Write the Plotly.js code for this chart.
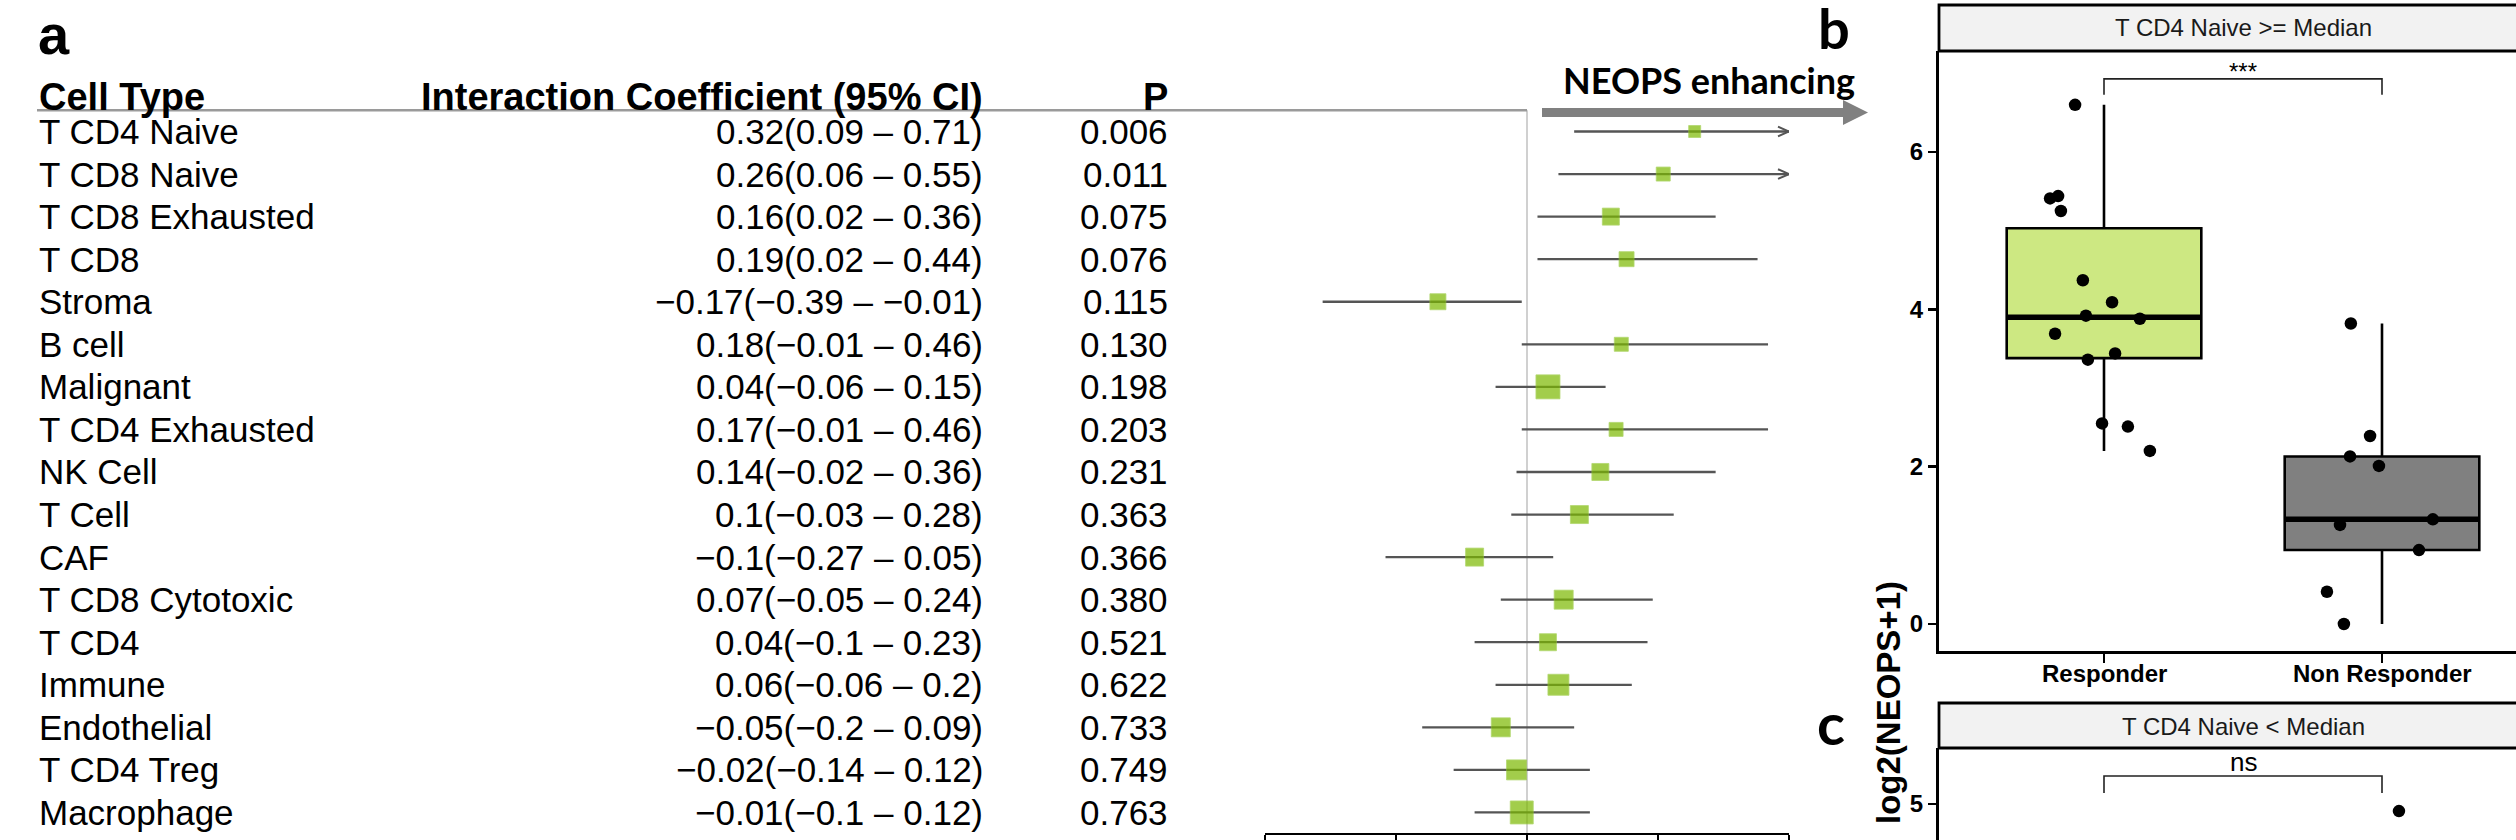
<!DOCTYPE html>
<html><head><meta charset="utf-8">
<script src="https://cdn.plot.ly/plotly-3.0.1.min.js"></script>
<style>html,body{margin:0;padding:0;background:#fff}</style>
</head><body><div id="chart" style="width:2516px;height:840px"></div>
<script>
// ---------- Panel a : forest plot data ----------
const cellTypes = ["T CD4 Naive","T CD8 Naive","T CD8 Exhausted","T CD8","Stroma","B cell","Malignant",
  "T CD4 Exhausted","NK Cell","T Cell","CAF","T CD8 Cytotoxic","T CD4","Immune","Endothelial","T CD4 Treg","Macrophage"];
const estimate = [0.32,0.26,0.16,0.19,-0.17,0.18,0.04,0.17,0.14,0.1,-0.1,0.07,0.04,0.06,-0.05,-0.02,-0.01];
const ciLower  = [0.09,0.06,0.02,0.02,-0.39,-0.01,-0.06,-0.01,-0.02,-0.03,-0.27,-0.05,-0.1,-0.06,-0.2,-0.14,-0.1];
const ciUpper  = [0.71,0.55,0.36,0.44,-0.01,0.46,0.15,0.46,0.36,0.28,0.05,0.24,0.23,0.2,0.09,0.12,0.12];
const pValue   = [0.006,0.011,0.075,0.076,0.115,0.130,0.198,0.203,0.231,0.363,0.366,0.380,0.521,0.622,0.733,0.749,0.763];
const boxWeight = [12,14,17,15,16,14,24,14,17,18,18,19,17,21,19,20,23];
const forestTicks = [-0.5,-0.25,0,0.25,0.5];
const headers = ["Cell Type","Interaction Coefficient (95% CI)","P"];

// ---------- Panel b / c : box plots ----------
const groups = ["Responder","Non Responder"];
const bResponder = [6.6,5.44,5.41,5.25,4.37,4.09,3.92,3.88,3.69,3.44,3.36,2.55,2.51,2.20];
const bResponderJitter = [-0.104,-0.165,-0.194,-0.155,-0.076,0.029,-0.065,0.129,-0.176,0.040,-0.058,-0.007,0.086,0.165];
const bNonResponder = [3.82,2.39,2.13,2.01,1.33,1.26,0.94,0.41,0.00];
const bNonResponderJitter = [-0.112,-0.043,-0.115,-0.011,0.183,-0.151,0.133,-0.198,-0.137];
const bTitle = "T CD4 Naive >= Median";
const bSig = "***";
const cNonResponder = [4.95];
const cNonResponderJitter = [0.061];
const cTitle = "T CD4 Naive < Median";
const cSig = "ns";
const bTicks = [0,2,4,6];
const cTicks = [5];

// ---------- helpers ----------
const W = 2516, H = 840;
const fx = p => p / W;
const fy = p => 1 - p / H;
const FONT = "Liberation Sans, Arial, sans-serif";
const fmt = v => String(v).replace("-", "\u2212");

function q7(arr, p) {
  const s = [...arr].sort((a,b)=>a-b);
  const h = (s.length - 1) * p, lo = Math.floor(h);
  const nx = lo + 1 < s.length ? s[lo+1] : s[lo];
  return s[lo] + (h - lo) * (nx - s[lo]);
}
function boxStats(arr) {
  const q1 = q7(arr,.25), q3 = q7(arr,.75), med = q7(arr,.5), iqr = q3 - q1;
  const inF = arr.filter(v => v >= q1 - 1.5*iqr && v <= q3 + 1.5*iqr);
  return {q1, med, q3, lo: Math.min(...inF), hi: Math.max(...inF)};
}

// forest geometry
const rowPx0 = 131.5, rowStep = 42.56, axisPx = 833;
const fyTop = -rowPx0 / rowStep, fyBot = (axisPx - rowPx0) / rowStep;
const xMin = forestTicks[0], xMax = forestTicks[forestTicks.length-1];
const pxPerX = (1789 - 1265) / (xMax - xMin);

const traces = [];
const rows = cellTypes.map((_, i) => i);

// CI lines
{
  const xs = [], ys = [];
  rows.forEach(i => { xs.push(Math.max(ciLower[i], xMin), Math.min(ciUpper[i], xMax), null); ys.push(i, i, null); });
  traces.push({type:'scatter', mode:'lines', x:xs, y:ys, xaxis:'x', yaxis:'y',
    line:{color:'#555555', width:2.3}, hoverinfo:'skip', showlegend:false});
}
// chevrons for truncated CIs
{
  const xs = [], ys = [], dx = 11 / pxPerX, dy = 4.8 / rowStep;
  rows.filter(i => ciUpper[i] > xMax).forEach(i => {
    xs.push(xMax - dx, xMax, xMax - dx, null); ys.push(i - dy, i, i + dy, null);
  });
  traces.push({type:'scatter', mode:'lines', x:xs, y:ys, xaxis:'x', yaxis:'y',
    line:{color:'#555555', width:2}, hoverinfo:'skip', showlegend:false});
}
// point estimates
traces.push({type:'scatter', mode:'markers', x:estimate, y:rows, xaxis:'x', yaxis:'y',
  marker:{symbol:'square', size:boxWeight, color:'#7cb900', line:{color:'#92c732', width:0.8}},
  hoverinfo:'skip', showlegend:false});

// box plots panel b
const bData = [bResponder, bNonResponder];
const bJit = [bResponderJitter, bNonResponderJitter];
const fills = ['#cde882', '#808080'];
const boxW = 0.70;
bData.forEach((arr, g) => {
  const s = boxStats(arr);
  traces.push({type:'box', x:[g], q1:[s.q1], median:[s.med], q3:[s.q3], lowerfence:[s.lo], upperfence:[s.hi],
    width: boxW, fillcolor: fills[g], line:{color:'#000', width:2.6}, whiskerwidth:0, boxpoints:false,
    xaxis:'x2', yaxis:'y2', hoverinfo:'skip', showlegend:false});
  traces.push({type:'scatter', mode:'lines', x:[g - boxW/2, g + boxW/2], y:[s.med, s.med], xaxis:'x2', yaxis:'y2',
    line:{color:'#000', width:5.5}, hoverinfo:'skip', showlegend:false});
  traces.push({type:'scatter', mode:'markers', x:arr.map((v,k)=> g + bJit[g][k]), y:arr, xaxis:'x2', yaxis:'y2',
    marker:{color:'#000', size:12.5}, hoverinfo:'skip', showlegend:false});
});
// panel c points (only visible part)
traces.push({type:'scatter', mode:'markers', x:cNonResponder.map((v,k)=>1 + cNonResponderJitter[k]), y:cNonResponder,
  xaxis:'x3', yaxis:'y3', marker:{color:'#000', size:12.5}, hoverinfo:'skip', showlegend:false});

// axis ranges for b, c
const catPx = 2382 - 2104, cat0 = 2104;
const xRangeBox = [(1939 - cat0) / catPx, (W - cat0) / catPx];
const bPxPerY = (624 - 152) / 6;
const bRange = [-(651 - 624) / bPxPerY, 6 + (152 - 51) / bPxPerY];
const cPxPerY = 141.4;
const cRange = [5 - (840 - 804) / cPxPerY, 5 + (804 - 748) / cPxPerY];

// significance brackets
const bMax = Math.max(...bResponder, ...bNonResponder);
const bBr = bMax * 1.05, bTip = 16 / bPxPerY;
traces.push({type:'scatter', mode:'lines', x:[0,0,1,1], y:[bBr-bTip,bBr,bBr,bBr-bTip], xaxis:'x2', yaxis:'y2',
  line:{color:'#222', width:1.6}, hoverinfo:'skip', showlegend:false});
const cMax = Math.max(...cNonResponder);
const cBr = cMax * 1.05, cTip = 17 / cPxPerY;
traces.push({type:'scatter', mode:'lines', x:[0,0,1,1], y:[cBr-cTip,cBr,cBr,cBr-cTip], xaxis:'x3', yaxis:'y3',
  line:{color:'#222', width:1.6}, hoverinfo:'skip', showlegend:false});

// ---------- annotations ----------
const ann = [];
const txt = (text, x, y, opts) => Object.assign({text, x, y, xref:'paper', yref:'paper', showarrow:false,
  xanchor:'center', yanchor:'middle', font:{family:FONT, size:35, color:'#000'}}, opts || {});
const hdrY = -0.8;
const hdrFont = {family:FONT, size:38, color:'#000', weight:'bold'};
ann.push(txt(headers[0], fx(37), hdrY, {yref:'y', xanchor:'left', font:hdrFont}));
ann.push(txt(headers[1], fx(985), hdrY, {yref:'y', xanchor:'right', font:hdrFont}));
ann.push(txt(headers[2], fx(1170), hdrY, {yref:'y', xanchor:'right', font:hdrFont}));
rows.forEach(i => {
  ann.push(txt(cellTypes[i], fx(37), i, {yref:'y', xanchor:'left'}));
  ann.push(txt(fmt(estimate[i]) + "(" + fmt(ciLower[i]) + " \u2013 " + fmt(ciUpper[i]) + ")", fx(985), i, {yref:'y', xanchor:'right'}));
  ann.push(txt(pValue[i].toFixed(3), fx(1170), i, {yref:'y', xanchor:'right'}));
});
ann.push(txt("NEOPS enhancing", fx(1709), fy(80), {font:{family:"Lato, sans-serif", size:36, color:'#000', weight:'bold'}}));
ann.push(txt("a", fx(54), fy(35), {font:{family:FONT, size:56, color:'#000', weight:'bold'}}));
ann.push(txt("b", fx(1834), fy(28), {borderpad:0, font:{family:"Lato, sans-serif", size:56, color:'#000', weight:'bold'}}));
ann.push(txt("c", fx(1831), fy(722), {font:{family:"Lato, sans-serif", size:58, color:'#000', weight:'bold'}}));
ann.push(txt(bTitle, fx(2243), fy(28), {font:{family:FONT, size:24, color:'#1a1a1a'}}));
ann.push(txt(cTitle, fx(2243), fy(726), {font:{family:FONT, size:24, color:'#1a1a1a'}}));
ann.push(txt("log2(NEOPS+1)", fx(1888), fy(703), {textangle:-90, font:{family:FONT, size:33, color:'#000', weight:'bold'}}));
groups.forEach((g, k) => {
  ann.push({text:g, x:k, y:fy(673), xref:'x2', yref:'paper', showarrow:false, xanchor:'center', yanchor:'middle',
    font:{family:FONT, size:24, color:'#000', weight:'bold'}});
});
ann.push({text:bSig, x:0.5, y:bBr, xref:'x2', yref:'y2', showarrow:false, xanchor:'center', yanchor:'bottom',
  yshift:-8, font:{family:FONT, size:24, color:'#000'}});
ann.push({text:cSig, x:0.5, y:cBr, xref:'x3', yref:'y3', showarrow:false, xanchor:'center', yanchor:'bottom',
  yshift:-3, font:{family:FONT, size:26, color:'#000'}});

// ---------- shapes ----------
const shapes = [];
shapes.push({type:'line', xref:'x', yref:'y', x0:0, x1:0, y0:-0.5, y1:fyBot, line:{color:'#d0d0d0', width:2}, layer:'below'});
shapes.push({type:'line', xref:'paper', yref:'y', x0:fx(37), x1:fx(1527), y0:-0.5, y1:-0.5, line:{color:'#9a9a9a', width:2.5}});
{
  const P = (x,y) => fx(x).toFixed(5) + ',' + fy(y).toFixed(5);
  const path = 'M' + P(1542,108) + ' L' + P(1843,108) + ' L' + P(1843,100) + ' L' + P(1868,112.5) +
    ' L' + P(1843,125) + ' L' + P(1843,117) + ' L' + P(1542,117) + ' Z';
  shapes.push({type:'path', xref:'paper', yref:'paper', path, fillcolor:'#808080', line:{width:0}});
}
shapes.push({type:'rect', xref:'paper', yref:'paper', x0:fx(1939), x1:1.05, y0:fy(51), y1:fy(5),
  fillcolor:'#f2f2f2', line:{color:'#000', width:2.8}});
shapes.push({type:'rect', xref:'paper', yref:'paper', x0:fx(1939), x1:1.05, y0:fy(748), y1:fy(703),
  fillcolor:'#f2f2f2', line:{color:'#000', width:2.8}});

const tickFont = {family:FONT, size:24, color:'#000', weight:'bold'};
const layout = {
  width:W, height:H, margin:{l:0,r:0,t:0,b:0}, paper_bgcolor:'#fff', plot_bgcolor:'rgba(0,0,0,0)',
  showlegend:false, font:{family:FONT},
  xaxis:{domain:[fx(1265), fx(1789)], range:[xMin, xMax], tickvals:forestTicks, ticks:'outside', ticklen:12,
    tickwidth:2, tickcolor:'#000', showline:true, linewidth:2, linecolor:'#000', showticklabels:false,
    showgrid:false, zeroline:false, anchor:'y', fixedrange:true},
  yaxis:{domain:[fy(axisPx), 1], range:[fyBot, fyTop], visible:false, anchor:'x', fixedrange:true},
  xaxis2:{domain:[fx(1939), 1], range:xRangeBox, tickvals:[0,1], ticks:'outside', ticklen:9,
    tickwidth:2.5, tickcolor:'#000', showline:true, linewidth:3, linecolor:'#000', showticklabels:false,
    showgrid:false, zeroline:false, anchor:'y2'},
  yaxis2:{domain:[fy(651), fy(51)], range:bRange, tickvals:bTicks, ticks:'outside', ticklen:8, tickwidth:2.5,
    tickcolor:'#000', showline:true, linewidth:3, linecolor:'#000', tickfont:tickFont, showgrid:false,
    zeroline:false, anchor:'x2'},
  xaxis3:{domain:[fx(1939), 1], range:xRangeBox, visible:false, anchor:'y3'},
  yaxis3:{domain:[0, fy(748)], range:cRange, tickvals:cTicks, ticks:'outside', ticklen:8, tickwidth:2.5,
    tickcolor:'#000', showline:true, linewidth:3, linecolor:'#000', tickfont:tickFont, showgrid:false,
    zeroline:false, anchor:'x3'},
  annotations: ann, shapes: shapes
};
Plotly.newPlot('chart', traces, layout, {staticPlot:true, displayModeBar:false});
</script></body></html>
